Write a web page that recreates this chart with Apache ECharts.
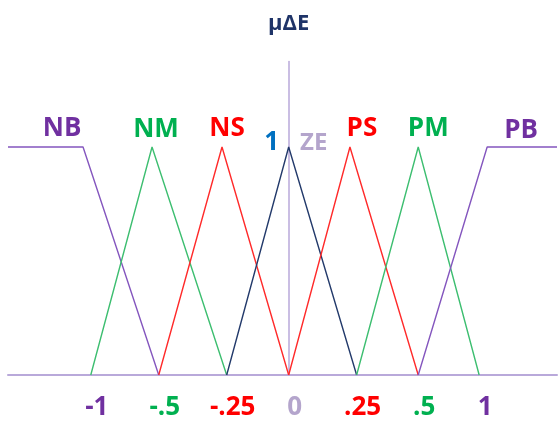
<!DOCTYPE html>
<html>
<head>
<meta charset="utf-8">
<script src="https://cdn.jsdelivr.net/npm/echarts@6/dist/echarts.min.js"></script>
<style>
  html, body { margin: 0; padding: 0; background: #fff; }
  #chart { width: 559px; height: 421px; }
</style>
</head>
<body>
<div id="chart"></div>
<script>
// Fuzzy sets of the error change ΔE, on an index axis where each step is one breakpoint.
const setNames = ['NB', 'NM', 'NS', 'ZE', 'PS', 'PM', 'PB'];
const NB = [[-4.32, 1], [-3.165, 1], [-2.0, 0]];
const NM = [[-3.046, 0], [-2.103, 1], [-0.954, 0]];
const NS = [[-2.0, 0], [-1.026, 1], [0, 0]];
const ZE = [[-0.954, 0], [0, 1], [1.046, 0]];
const PS = [[0, 0], [0.943, 1], [1.994, 0]];
const PM = [[1.046, 0], [1.994, 1], [2.932, 0]];
const PB = [[1.994, 0], [3.055, 1], [4.13, 1]];
const setPoints = [NB, NM, NS, ZE, PS, PM, PB];

// Universe tick marks and what they read
const tickValues = [-3.046, -2.0, -0.954, 0, 1.046, 1.994, 2.932];
const tickLabels = ['-1', '-.5', '-.25', '0', '.25', '.5', '1'];

// Full membership grade, marked beside the vertical axis
const fullGrade = 1;

// Styling
const FONT = "'Open Sans', sans-serif";
const lineColors = ['#8456BE', '#3DBE70', '#FF2A2A', '#233A6B', '#FF2A2A', '#3DBE70', '#8456BE'];
const textColors = ['#7030A0', '#00B050', '#FF0000', '#B4A5CC', '#FF0000', '#00B050', '#7030A0'];
const tickColors = ['#7030A0', '#00B050', '#FF0000', '#B4A5CC', '#FF0000', '#00B050', '#7030A0'];
const labelOffsets = [[-21, -18], [4, -17], [5, -18], [25, -4], [12, -18], [10, -18], [34, -16]];
const axisColor = '#B9A9DA';

function peakOf(pts, i) {
  // the corner of the set where membership first reaches 1 (inner corner for NB)
  const ones = pts.filter(p => p[1] === 1);
  return i === 0 ? ones[ones.length - 1] : ones[0];
}

const rich = {};
tickColors.forEach((c, i) => {
  rich['t' + i] = { color: c, fontFamily: FONT, fontWeight: 'bold', fontSize: 26, padding: [0, 0, 0, 12] };
});

const series = setNames.map((name, i) => {
  const marks = [{
    name: name,
    coord: peakOf(setPoints[i], i),
    label: { offset: labelOffsets[i], color: textColors[i], fontSize: i === 3 ? 24 : 26 }
  }];
  if (name === 'ZE') {
    // grade "1" written just left of the vertical axis at full membership
    marks.push({
      name: String(fullGrade),
      coord: [0, fullGrade],
      label: { offset: [-17, -4], color: '#0070C0', fontSize: 26 }
    });
  }
  return {
    name: name,
    type: 'line',
    data: setPoints[i],
    symbol: 'none',
    silent: true,
    lineStyle: { color: lineColors[i], width: 1.4 },
    markPoint: {
      symbol: 'circle',
      symbolSize: 1,
      itemStyle: { color: 'rgba(0,0,0,0)' },
      data: marks,
      label: {
        show: true,
        position: 'inside',
        formatter: '{b}',
        fontFamily: FONT,
        fontWeight: 'bold'
      }
    }
  };
});

const chart = echarts.init(document.getElementById('chart'), null, { renderer: 'canvas' });
chart.setOption({
  animation: false,
  backgroundColor: '#ffffff',
  grid: { left: 8, right: 2, top: 61.5, bottom: 46, containLabel: false, outerBoundsMode: 'none' },
  xAxis: {
    type: 'value',
    min: -4.32,
    max: 4.13,
    splitLine: { show: false },
    axisTick: { show: false },
    axisLine: { show: true, onZero: true, lineStyle: { color: axisColor, width: 2 } },
    axisLabel: {
      customValues: tickValues,
      margin: 20,
      formatter: function (v) {
        const i = tickValues.findIndex(t => Math.abs(t - v) < 1e-6);
        return i < 0 ? '' : '{t' + i + '|' + tickLabels[i] + '}';
      },
      rich: rich
    }
  },
  yAxis: {
    type: 'value',
    min: 0,
    max: 1.375,
    interval: 1,
    splitLine: { show: false },
    axisTick: { show: false },
    axisLabel: { show: false },
    axisLine: { show: true, onZero: true, lineStyle: { color: axisColor, width: 1.5 } },
    name: 'μΔE',
    nameLocation: 'end',
    nameGap: 27,
    nameTextStyle: {
      color: '#1F3468',
      fontFamily: FONT,
      fontWeight: 'bold',
      fontSize: 22
    }
  },
  series: series
});
</script>
</body>
</html>
